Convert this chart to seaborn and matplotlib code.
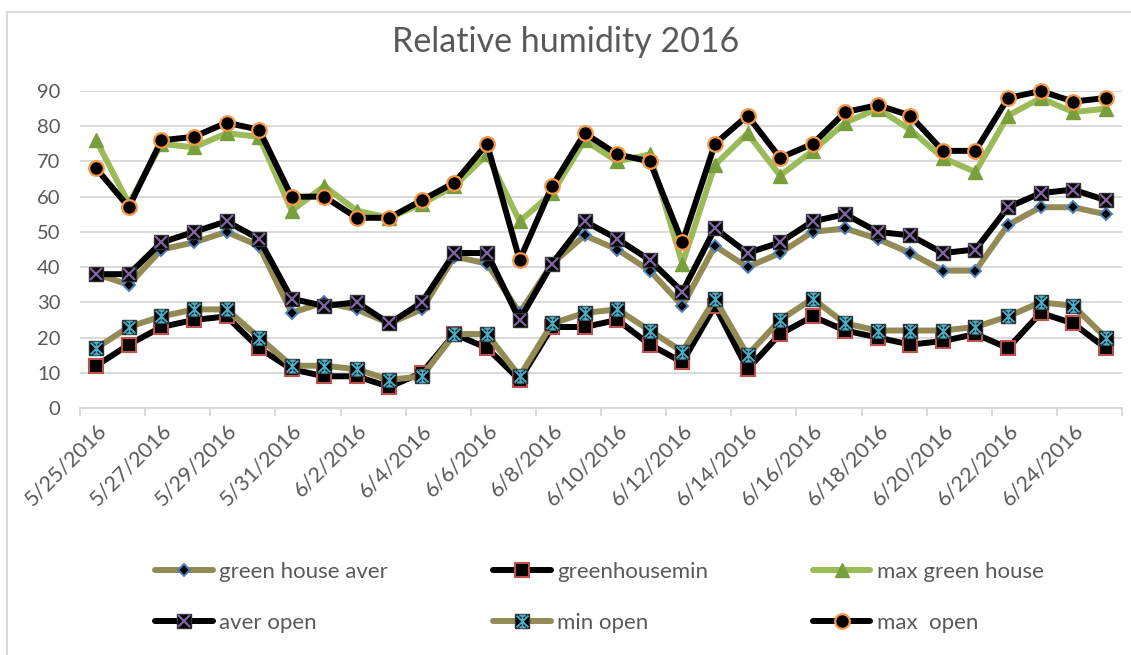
import numpy as np
import pandas as pd
import matplotlib
matplotlib.use("Agg")
import matplotlib.pyplot as plt
from matplotlib.lines import Line2D
from matplotlib.path import Path
from matplotlib.legend_handler import HandlerTuple
import seaborn as sns

# Daily relative humidity readings, 25 May - 25 June 2016
dates = pd.date_range("2016-05-25", "2016-06-25", freq="D")

green_house_aver = [38, 35, 45, 47, 50, 46, 27, 30, 28, 24, 28, 43, 41, 27, 41, 49,
                    45, 39, 29, 46, 40, 44, 50, 51, 48, 44, 39, 39, 52, 57, 57, 55]
greenhouse_min = [12, 18, 23, 25, 26, 17, 11, 9, 9, 6, 10, 21, 17, 8, 23, 23,
                  25, 18, 13, 29, 11, 21, 26, 22, 20, 18, 19, 21, 17, 27, 24, 17]
max_green_house = [76, 58, 75, 74, 78, 77, 56, 63, 56, 54, 58, 63, 72, 53, 61, 76,
                   70, 72, 41, 69, 78, 66, 73, 81, 85, 79, 71, 67, 83, 88, 84, 85]
aver_open = [38, 38, 47, 50, 53, 48, 31, 29, 30, 24, 30, 44, 44, 25, 41, 53,
             48, 42, 33, 51, 44, 47, 53, 55, 50, 49, 44, 45, 57, 61, 62, 59]
min_open = [17, 23, 26, 28, 28, 20, 12, 12, 11, 8, 9, 21, 21, 9, 24, 27,
            28, 22, 16, 31, 15, 25, 31, 24, 22, 22, 22, 23, 26, 30, 29, 20]
max_open = [68, 57, 76, 77, 81, 79, 60, 60, 54, 54, 59, 64, 75, 42, 63, 78,
            72, 70, 47, 75, 83, 71, 75, 84, 86, 83, 73, 73, 88, 90, 87, 88]

series_names = ["green house aver", "greenhousemin", "max green house",
                "aver open", "min open", "max  open"]
y_ticks = list(range(0, 100, 10))

df = pd.DataFrame({"date": dates,
                   series_names[0]: green_house_aver,
                   series_names[1]: greenhouse_min,
                   series_names[2]: max_green_house,
                   series_names[3]: aver_open,
                   series_names[4]: min_open,
                   series_names[5]: max_open})

OLIVE = "#948A54"
BLACK = "#000000"
LGREEN = "#9BBB59"
GREY_TXT = "#595959"
GRID = "#D9D9D9"

# asterisk-with-bars marker
star_path = Path(
    [(-1, -1), (1, 1), (-1, 1), (1, -1), (0, -1), (0, 1),
     (-0.55, 1), (0.55, 1), (-0.55, -1), (0.55, -1)],
    [Path.MOVETO, Path.LINETO, Path.MOVETO, Path.LINETO, Path.MOVETO, Path.LINETO,
     Path.MOVETO, Path.LINETO, Path.MOVETO, Path.LINETO])

LW = 4.3
styles = {
    "green house aver": dict(color=OLIVE, marker="D", markersize=6.5,
                             markerfacecolor=BLACK, markeredgecolor="#4F81BD",
                             markeredgewidth=1.4),
    "greenhousemin": dict(color=BLACK, marker="s", markersize=9.5,
                          markerfacecolor=BLACK, markeredgecolor="#C0504D",
                          markeredgewidth=1.5),
    "max green house": dict(color=LGREEN, marker="^", markersize=10.5,
                            markerfacecolor="#77A03C", markeredgecolor="#77A03C",
                            markeredgewidth=1.0),
    "aver open": dict(color=BLACK, marker="s", markersize=10,
                      markerfacecolor=BLACK, markeredgecolor="#333333",
                      markeredgewidth=1.0),
    "min open": dict(color=OLIVE, marker="s", markersize=10,
                     markerfacecolor=BLACK, markeredgecolor="#333333",
                     markeredgewidth=1.0),
    "max  open": dict(color=BLACK, marker="o", markersize=10.5,
                      markerfacecolor=BLACK, markeredgecolor="#F79646",
                      markeredgewidth=1.6),
}
overlays = {
    "aver open": dict(marker="x", markersize=8, markeredgecolor="#8064A2",
                      markeredgewidth=1.6, markerfacecolor="none"),
    "min open": dict(marker=star_path, markersize=8.5, markeredgecolor="#4BACC6",
                     markeredgewidth=1.4, markerfacecolor="none"),
}

sns.set_theme(style="white")
plt.rcParams["font.family"] = ["Lato", "DejaVu Sans"]

fig = plt.figure(figsize=(11.31, 6.55), dpi=100)
ax = fig.add_axes([80 / 1131, 1 - 408 / 655, (1122 - 80) / 1131, (408 - 91) / 655])

for z, name in enumerate(series_names):
    sns.lineplot(data=df, x="date", y=name, ax=ax, linewidth=LW,
                 solid_joinstyle="miter", clip_on=False, zorder=3 + z,
                 **styles[name])
    if name in overlays:
        ax.plot(df["date"], df[name], linestyle="none", clip_on=False,
                zorder=3 + z + 0.5, **overlays[name])

# axes and grid
half = pd.Timedelta(hours=12)
ax.set_xlim(dates[0] - half, dates[-1] + half)
ax.set_ylim(0, 90)
ax.set_yticks(y_ticks)
ax.set_yticklabels([str(v) for v in y_ticks])
ax.yaxis.grid(True, color=GRID, linewidth=1.4)
ax.set_axisbelow(True)
for s in ["top", "right", "left"]:
    ax.spines[s].set_visible(False)
ax.spines["bottom"].set_color(GRID)
ax.spines["bottom"].set_linewidth(1.4)

label_dates = dates[::2]
ax.set_xticks(label_dates)
ax.set_xticklabels([f"{d.month}/{d.day}/{d.year}" for d in label_dates],
                   rotation=45, ha="right", va="top", rotation_mode="anchor")
ax.set_xticks(list(label_dates - half) + [dates[-1] + half], minor=True)
ax.tick_params(axis="x", which="major", length=0, pad=9, labelsize=15.5,
               labelcolor=GREY_TXT)
ax.tick_params(axis="x", which="minor", length=6, width=1.4, color=GRID,
               direction="out", bottom=True)
ax.tick_params(axis="y", length=0, pad=14, labelsize=14.5, labelcolor=GREY_TXT)
ax.set_xlabel("")
ax.set_ylabel("")

fig.text(0.5, 1 - 42 / 655, "Relative humidity 2016", ha="center", va="center",
         fontsize=24.5, color=GREY_TXT)

# chart border
fig.add_artist(Line2D([7 / 1131, 7 / 1131], [0, 1 - 12 / 655], transform=fig.transFigure,
                      color=GRID, linewidth=1.5))
fig.add_artist(Line2D([7 / 1131, 1], [1 - 12 / 655, 1 - 12 / 655], transform=fig.transFigure,
                      color=GRID, linewidth=1.5))

# legend: row-major order in three columns
def handle(name):
    base = Line2D([], [], linewidth=LW, **styles[name])
    if name in overlays:
        return (base, Line2D([], [], linestyle="none", **overlays[name]))
    return base

order = [0, 3, 1, 4, 2, 5]
handles = [handle(series_names[i]) for i in order]
labels = [series_names[i] for i in order]
fig.legend(handles, labels, ncol=3, loc="upper left",
           bbox_to_anchor=(155 / 1131, 1 - 562 / 655), frameon=False,
           fontsize=16, labelcolor=GREY_TXT, handlelength=2.6, handletextpad=0.3,
           columnspacing=4.7, labelspacing=1.4, borderpad=0, borderaxespad=0,
           handler_map={tuple: HandlerTuple(ndivide=1)})

fig.savefig("out.png", dpi=100, facecolor="white")
